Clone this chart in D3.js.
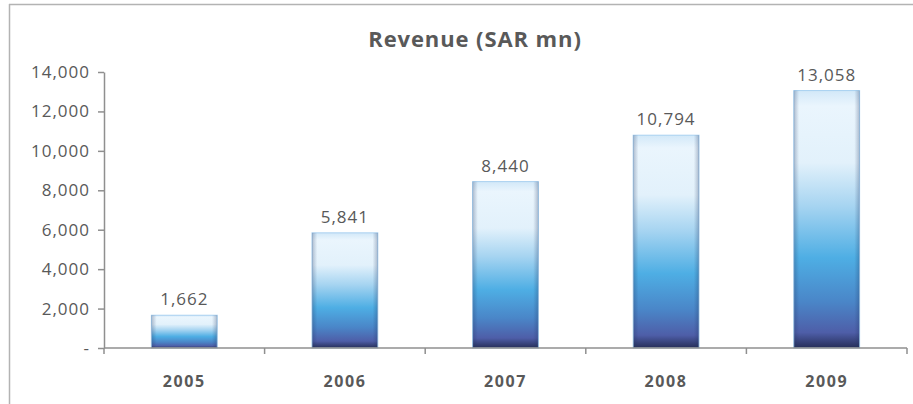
<!DOCTYPE html>
<html>
<head>
    <script src="https://cdnjs.cloudflare.com/ajax/libs/d3/7.8.5/d3.min.js"></script>
    <style>
        body { margin: 0; background: #fff; }
        text { font-family: "Open Sans", "Noto Sans", sans-serif; fill: #595959; }
        .tick text { font-size: 17px; letter-spacing: 1px; }
        .axis path, .axis line { stroke: #8f8f8f; stroke-width: 1.5px; }
    </style>
</head>
<body>
    <div id="chart"></div>
    <script>
        const width = 913, height = 404;

        const years = ["2005", "2006", "2007", "2008", "2009"];
        const revenue = [1662, 5841, 8440, 10794, 13058];
        const yTicks = [0, 2000, 4000, 6000, 8000, 10000, 12000, 14000];

        const margin = { top: 72, right: 6, bottom: 56, left: 104 };

        const svg = d3.select("#chart").append("svg")
            .attr("width", width).attr("height", height);

        // frame (top and left edges only visible)
        svg.append("line").attr("x1", 9).attr("x2", width).attr("y1", 4.5).attr("y2", 4.5)
            .attr("stroke", "#b3b3b3").attr("stroke-width", 1.5);
        svg.append("line").attr("x1", 9.5).attr("x2", 9.5).attr("y1", 4).attr("y2", height)
            .attr("stroke", "#b3b3b3").attr("stroke-width", 1.5);

        const x = d3.scaleBand().domain(years)
            .range([margin.left, width - margin.right]).paddingInner(0.59).paddingOuter(0.295);
        const y = d3.scaleLinear().domain([0, 14000])
            .range([height - margin.bottom, margin.top]);

        const defs = svg.append("defs");
        const g1 = defs.append("linearGradient").attr("id", "barV")
            .attr("x1", 0).attr("y1", 0).attr("x2", 0).attr("y2", 1);
        [[0, "#d2e8f8"], [0.06, "#eaf5fd"], [0.28, "#e2f1fb"], [0.45, "#a6d4f1"],
         [0.65, "#4eaee4"], [0.82, "#4a86c8"], [0.94, "#4e5ea8"], [1, "#262e58"]]
            .forEach(([o, c]) => g1.append("stop").attr("offset", o).attr("stop-color", c));
        const g2 = defs.append("linearGradient").attr("id", "barH")
            .attr("x1", 0).attr("y1", 0).attr("x2", 1).attr("y2", 0);
        [[0, "#1d3360", 0.3], [0.08, "#1d3360", 0.0], [0.92, "#1d3360", 0.0], [1, "#1d3360", 0.3]]
            .forEach(([o, c, a]) => g2.append("stop").attr("offset", o)
                .attr("stop-color", c).attr("stop-opacity", a));

        const bars = svg.append("g").selectAll("g")
            .data(revenue).join("g");

        bars.append("rect")
            .attr("x", (d, i) => x(years[i]))
            .attr("y", d => y(d))
            .attr("width", x.bandwidth())
            .attr("height", d => y(0) - y(d))
            .attr("fill", "url(#barV)")
            .attr("stroke", "#a8d0f0").attr("stroke-width", 1);
        bars.append("rect")
            .attr("x", (d, i) => x(years[i]))
            .attr("y", d => y(d))
            .attr("width", x.bandwidth())
            .attr("height", d => y(0) - y(d))
            .attr("fill", "url(#barH)");

        bars.append("text")
            .attr("x", (d, i) => x(years[i]) + x.bandwidth() / 2)
            .attr("y", d => y(d) - 10)
            .attr("text-anchor", "middle")
            .style("font-size", "17px").style("letter-spacing", "1px")
            .text(d => d3.format(",")(d));

        // y axis
        svg.append("g").attr("class", "axis")
            .attr("transform", `translate(${margin.left},0)`)
            .call(d3.axisLeft(y).tickValues(yTicks).tickSize(6).tickSizeOuter(0).tickPadding(8)
                .tickFormat(d => d === 0 ? "-" : d3.format(",")(d)));

        // x axis
        const xAxis = svg.append("g").attr("class", "axis")
            .attr("transform", `translate(0,${y(0)})`)
            .call(d3.axisBottom(x).tickSize(0).tickPadding(28));
        xAxis.select(".domain").attr("d", `M${margin.left},0H${width - margin.right}`);
        xAxis.selectAll(".tick text").style("font-size", "16px")
            .style("font-weight", "bold").style("letter-spacing", "1.6px");
        xAxis.selectAll(".sep").data(d3.range(years.length + 1)).join("line")
            .attr("x1", i => margin.left + i * (width - margin.right - margin.left) / years.length)
            .attr("x2", i => margin.left + i * (width - margin.right - margin.left) / years.length)
            .attr("y1", 0).attr("y2", 6);

        svg.append("text")
            .attr("x", 475).attr("y", 47)
            .attr("text-anchor", "middle")
            .style("font-size", "22px").style("font-weight", "bold").style("letter-spacing", "0.9px")
            .text("Revenue (SAR mn)");
    </script>
</body>
</html>
